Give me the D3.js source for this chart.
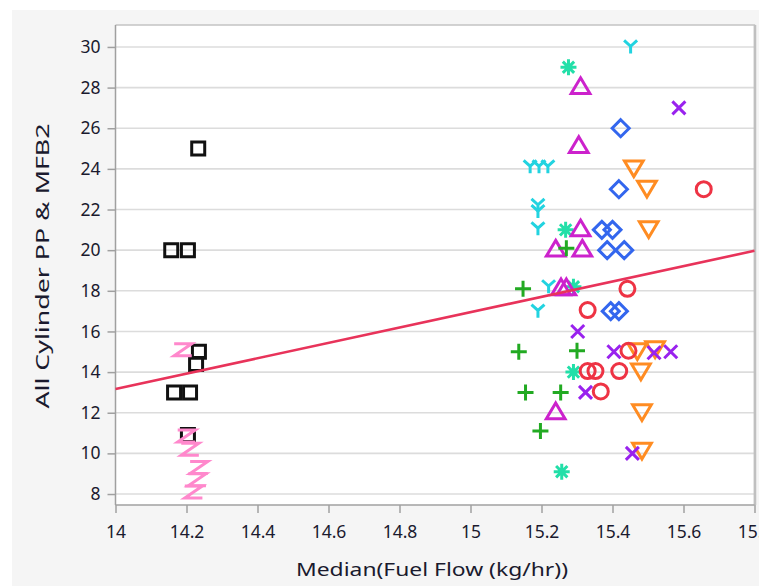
<!DOCTYPE html>
<html>
<head>
<meta charset="utf-8">
<script src="https://cdn.jsdelivr.net/npm/d3@7"></script>
<style>
  html, body { margin: 0; padding: 0; background: #ffffff; }
  svg { display: block; }
  text { font-family: "Noto Sans", "Open Sans", sans-serif; fill: #1a1a2e; }
</style>
</head>
<body>
<svg id="chart" width="759" height="586"></svg>
<script>
// Axis ticks
const xTicks = [14, 14.2, 14.4, 14.6, 14.8, 15, 15.2, 15.4, 15.6, 15.8];
const xTickLabels = ["14", "14.2", "14.4", "14.6", "14.8", "15", "15.2", "15.4", "15.6", "15.8"];
const yTicks = [8, 10, 12, 14, 16, 18, 20, 22, 24, 26, 28, 30];

// Series: [fuel flow, PP & MFB2]
const squares = [[14.233, 25], [14.157, 20], [14.204, 20], [14.235, 15], [14.227, 14.4], [14.165, 13], [14.21, 13], [14.204, 10.9]];
const zees = [[14.19, 15.1], [14.2, 10.85], [14.21, 10.2], [14.235, 9.3], [14.23, 8.7], [14.22, 8.1]];
const wyes = [[15.451, 30], [15.168, 24.1], [15.193, 24.1], [15.218, 24.1], [15.19, 22.2], [15.19, 21.9], [15.19, 21.05], [15.19, 17], [15.22, 18.2]];
const stars = [[15.276, 29], [15.268, 21], [15.29, 18.2], [15.29, 14], [15.257, 9.1]];
const triUp = [[15.31, 28], [15.305, 25.1], [15.31, 21], [15.24, 20], [15.315, 20], [15.255, 18.1], [15.27, 18.1], [15.24, 12]];
const diamonds = [[15.423, 26], [15.418, 23], [15.37, 21], [15.40, 21], [15.385, 20], [15.433, 20], [15.395, 17], [15.418, 17]];
const triDown = [[15.46, 24.1], [15.497, 23.1], [15.502, 21.1], [15.47, 15.1], [15.52, 15.2], [15.48, 14.1], [15.483, 12.1], [15.483, 10.2]];
const circles = [[15.33, 17.05], [15.442, 18.1], [15.657, 23], [15.33, 14.05], [15.352, 14.05], [15.367, 13.05], [15.419, 14.05], [15.445, 15.05]];
const crosses = [[15.587, 27], [15.302, 16], [15.404, 15], [15.324, 13], [15.517, 14.95], [15.564, 15], [15.456, 10]];
const pluses = [[15.27, 20.1], [15.148, 18.1], [15.136, 15], [15.30, 15.05], [15.155, 13], [15.254, 13], [15.197, 11.1]];

// Linear fit endpoints
const fitX = [14, 15.8];
const fitY = [13.17, 19.97];

const svg = d3.select("#chart");
const W = 759, H = 586;
const plot = { left: 115.5, right: 754.5, top: 25, bottom: 505 };

// Panel background
svg.append("rect").attr("x", 12).attr("y", 10).attr("width", W - 12).attr("height", H - 10).attr("fill", "#f5f5f5");
svg.append("rect").attr("x", plot.left).attr("y", plot.top)
  .attr("width", plot.right - plot.left).attr("height", plot.bottom - plot.top).attr("fill", "#ffffff");

const x = d3.scaleLinear().domain([14, 15.8]).range([plot.left, plot.right]);
const y = d3.scaleLinear().domain([7.46, 31.08]).range([plot.bottom, plot.top]);

// Horizontal gridlines
svg.append("g").selectAll("line").data(yTicks).join("line")
  .attr("x1", plot.left).attr("x2", plot.right)
  .attr("y1", d => y(d)).attr("y2", d => y(d))
  .attr("stroke", "#dcdcdc").attr("stroke-width", 1.6);

// Frame
svg.append("path")
  .attr("d", `M${plot.left},${plot.top}H${plot.right}V${plot.bottom}`)
  .attr("fill", "none").attr("stroke", "#c4c4c4").attr("stroke-width", 1.4);
svg.append("line").attr("x1", plot.right + 0.5).attr("x2", plot.right + 0.5)
  .attr("y1", plot.top).attr("y2", plot.bottom).attr("stroke", "#c0c0c0").attr("stroke-width", 2.5);

// Axes
const yAxis = d3.axisLeft(y).tickValues(yTicks).tickSize(8).tickPadding(7);
const gy = svg.append("g").attr("transform", `translate(${plot.left},0)`).call(yAxis);
const xAxis = d3.axisBottom(x).tickValues(xTicks).tickFormat((d, i) => xTickLabels[i]).tickSize(8).tickPadding(13);
const gx = svg.append("g").attr("transform", `translate(0,${plot.bottom})`).call(xAxis);
[gx, gy].forEach(g => {
  g.select(".domain").attr("stroke", "#a0a0a0").attr("stroke-width", 1.5);
  g.selectAll(".tick line").attr("stroke", "#a0a0a0").attr("stroke-width", 1.5);
  g.selectAll(".tick text").style("font-size", "17.5px").attr("fill", "#1a1a2e")
    .style("font-family", "'Noto Sans', sans-serif");
});
gy.select(".domain").attr("d", `M0,${plot.top}V${plot.bottom}`);
gx.select(".domain").attr("d", `M${plot.left},0H${plot.right}`);

// Axis titles
svg.append("text").attr("x", 432).attr("y", 576)
  .attr("text-anchor", "middle").style("font-size", "18.5px")
  .attr("textLength", 272).attr("lengthAdjust", "spacingAndGlyphs")
  .text("Median(Fuel Flow (kg/hr))");
svg.append("text").attr("transform", `translate(49,${266}) rotate(-90)`)
  .attr("text-anchor", "middle").style("font-size", "18.5px")
  .attr("textLength", 285).attr("lengthAdjust", "spacingAndGlyphs")
  .text("All Cylinder PP & MFB2");

// Marker shapes, centred on (0,0)
const shapes = {
  square: s => `M${-s},${-s}H${s}V${s}H${-s}Z`,
  zee: s => `M${-s * 1.1},${-s * 0.75}H${s * 1.1}L${-s * 1.1},${s * 0.75}H${s * 1.1}`,
  wye: s => `M${-s},${-s}L0,${-s * 0.1}L${s},${-s}M0,${-s * 0.1}V${s}`,
  star: s => { let p = ""; for (let k = 0; k < 4; k++) { const a = k * Math.PI / 4; p += `M${-s * Math.cos(a)},${-s * Math.sin(a)}L${s * Math.cos(a)},${s * Math.sin(a)}`; } return p; },
  triUp: s => `M0,${-s * 1.15}L${s * 1.1},${s * 0.7}H${-s * 1.1}Z`,
  triDown: s => `M0,${s * 1.15}L${s * 1.1},${-s * 0.7}H${-s * 1.1}Z`,
  diamond: s => `M0,${-s}L${s},0L0,${s}L${-s},0Z`,
  circle: s => `M${s},0A${s},${s} 0 1,1 ${-s},0A${s},${s} 0 1,1 ${s},0Z`,
  cross: s => `M${-s},${-s}L${s},${s}M${s},${-s}L${-s},${s}`,
  plus: s => `M${-s},0H${s}M0,${-s}V${s}`
};

const series = [
  { data: squares, shape: "square", size: 6.5, color: "#111111" },
  { data: zees, shape: "zee", size: 8, color: "#ff88cc" },
  { data: wyes, shape: "wye", size: 6.5, color: "#22d3e0" },
  { data: stars, shape: "star", size: 8, color: "#22dfa8" },
  { data: triUp, shape: "triUp", size: 8.5, color: "#cc22cc" },
  { data: diamonds, shape: "diamond", size: 8.5, color: "#3366ee" },
  { data: triDown, shape: "triDown", size: 8.5, color: "#ff8c22" },
  { data: circles, shape: "circle", size: 7.5, color: "#ee3344" },
  { data: crosses, shape: "cross", size: 6.5, color: "#9922ee" },
  { data: pluses, shape: "plus", size: 8, color: "#22aa22" }
];

const marks = svg.append("g");
series.forEach(s => {
  marks.append("g").selectAll("path").data(s.data).join("path")
    .attr("transform", d => `translate(${x(d[0])},${y(d[1])})`)
    .attr("d", shapes[s.shape](s.size))
    .attr("fill", "none").attr("stroke", s.color).attr("stroke-width", 3)
    .attr("stroke-linejoin", "miter");
});

// Fit line
svg.append("line")
  .attr("x1", x(fitX[0])).attr("y1", y(fitY[0]))
  .attr("x2", x(fitX[1])).attr("y2", y(fitY[1]))
  .attr("stroke", "#e8335a").attr("stroke-width", 2.6);
</script>
</body>
</html>
